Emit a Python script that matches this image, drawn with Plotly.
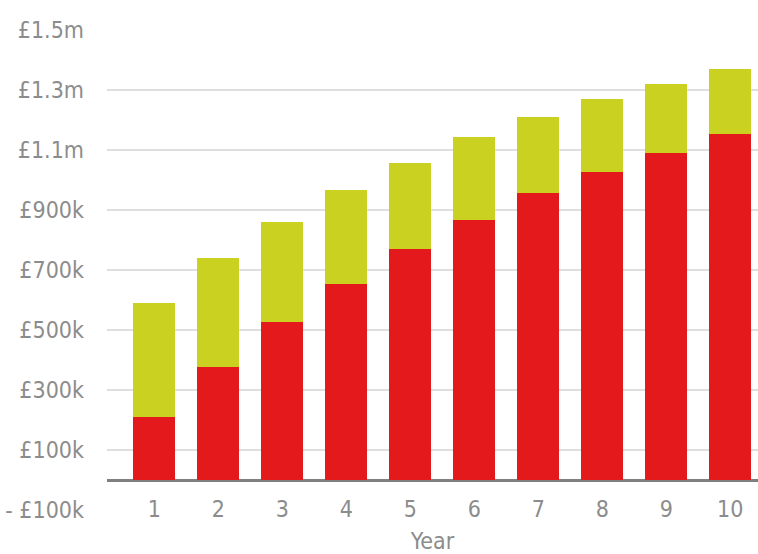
import plotly.graph_objects as go

years = [1, 2, 3, 4, 5, 6, 7, 8, 9, 10]
red_values = [211000, 376000, 528000, 653000, 769000, 867000, 956000, 1028000, 1091000, 1153000]
green_values = [380000, 363000, 331000, 315000, 287000, 275000, 254000, 241000, 228000, 218000]
y_tick_vals = [-100000, 100000, 300000, 500000, 700000, 900000, 1100000, 1300000, 1500000]
y_tick_text = ["- £100k", "£100k", "£300k", "£500k", "£700k", "£900k", "£1.1m", "£1.3m", "£1.5m"]

FONT = "DejaVu Sans Condensed, sans-serif"
GRAY = "#8c8c8c"
FS = 23

fig = go.Figure()
fig.add_trace(go.Bar(x=years, y=red_values, marker=dict(color="#e3191b", line=dict(width=0)),
                     width=0.656, name="A"))
fig.add_trace(go.Bar(x=years, y=green_values, marker=dict(color="#cbd121", line=dict(width=0)),
                     width=0.656, name="B"))

fig.update_layout(
    barmode="stack",
    width=758, height=554,
    margin=dict(l=107, r=0, t=30, b=44),
    paper_bgcolor="white", plot_bgcolor="white",
    showlegend=False,
    font=dict(family=FONT, size=FS, color=GRAY),
    xaxis=dict(
        range=[0.259, 10.434],
        tickvals=years, ticktext=[str(y) for y in years],
        showgrid=False, showline=False, zeroline=False, ticks="",
        anchor="free", position=30 / 480,
        automargin=False,
        ticklabelstandoff=13,
        tickfont=dict(size=FS, color=GRAY),
        title=dict(text="Year", font=dict(size=FS, color=GRAY), standoff=12),
    ),
    yaxis=dict(
        range=[-100000, 1500000],
        tickvals=y_tick_vals, ticktext=y_tick_text,
        showgrid=True, gridcolor="#dedede", gridwidth=1.5,
        zeroline=True, zerolinecolor="#7f7f7f", zerolinewidth=3,
        showline=False, ticks="",
        automargin=False,
        ticklabelstandoff=22,
        tickfont=dict(size=FS, color=GRAY),
    ),
)

fig.write_html("out.html")
